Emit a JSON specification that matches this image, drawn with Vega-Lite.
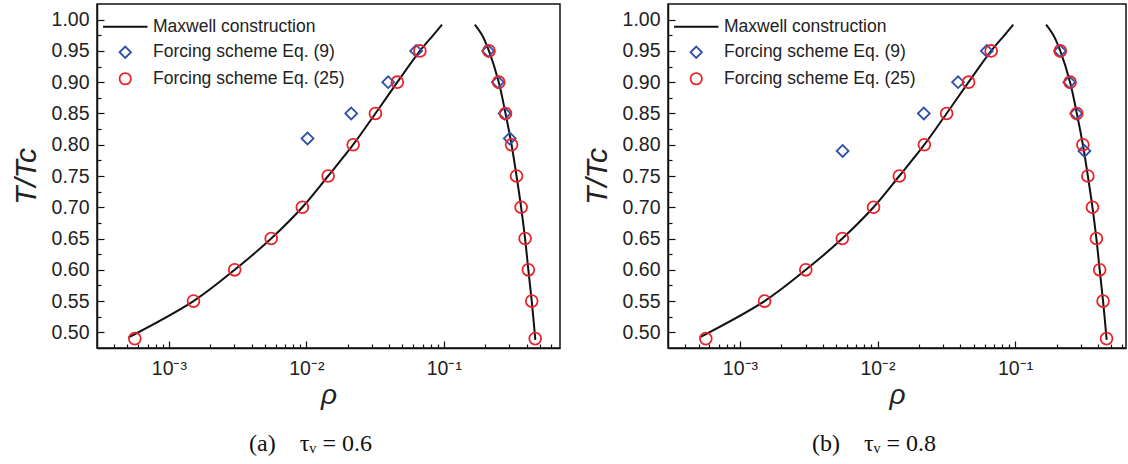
{
  "$schema": "https://vega.github.io/schema/vega-lite/v6.json",
  "padding": {"left": 10, "top": 3, "right": 0, "bottom": 0},
  "spacing": 20,
  "background": "white",
  "datasets": {
    "curve": [
      {"series": "Maxwell construction", "branch": "gas", "rho": 0.00051, "T": 0.492},
      {"series": "Maxwell construction", "branch": "gas", "rho": 0.00151, "T": 0.55},
      {"series": "Maxwell construction", "branch": "gas", "rho": 0.00301, "T": 0.60},
      {"series": "Maxwell construction", "branch": "gas", "rho": 0.00555, "T": 0.65},
      {"series": "Maxwell construction", "branch": "gas", "rho": 0.00935, "T": 0.70},
      {"series": "Maxwell construction", "branch": "gas", "rho": 0.0144, "T": 0.75},
      {"series": "Maxwell construction", "branch": "gas", "rho": 0.0219, "T": 0.80},
      {"series": "Maxwell construction", "branch": "gas", "rho": 0.0318, "T": 0.85},
      {"series": "Maxwell construction", "branch": "gas", "rho": 0.0459, "T": 0.90},
      {"series": "Maxwell construction", "branch": "gas", "rho": 0.067, "T": 0.95},
      {"series": "Maxwell construction", "branch": "gas", "rho": 0.0835, "T": 0.975},
      {"series": "Maxwell construction", "branch": "gas", "rho": 0.097, "T": 0.992},
      {"series": "Maxwell construction", "branch": "liquid", "rho": 0.463, "T": 0.488},
      {"series": "Maxwell construction", "branch": "liquid", "rho": 0.436, "T": 0.55},
      {"series": "Maxwell construction", "branch": "liquid", "rho": 0.412, "T": 0.60},
      {"series": "Maxwell construction", "branch": "liquid", "rho": 0.39, "T": 0.65},
      {"series": "Maxwell construction", "branch": "liquid", "rho": 0.365, "T": 0.70},
      {"series": "Maxwell construction", "branch": "liquid", "rho": 0.338, "T": 0.75},
      {"series": "Maxwell construction", "branch": "liquid", "rho": 0.311, "T": 0.80},
      {"series": "Maxwell construction", "branch": "liquid", "rho": 0.281, "T": 0.85},
      {"series": "Maxwell construction", "branch": "liquid", "rho": 0.251, "T": 0.90},
      {"series": "Maxwell construction", "branch": "liquid", "rho": 0.213, "T": 0.95},
      {"series": "Maxwell construction", "branch": "liquid", "rho": 0.19, "T": 0.975},
      {"series": "Maxwell construction", "branch": "liquid", "rho": 0.168, "T": 0.992}
    ],
    "pts": [
      {"series": "Forcing scheme Eq. (9)", "panel": "a", "rho": 0.0629, "T": 0.95},
      {"series": "Forcing scheme Eq. (9)", "panel": "a", "rho": 0.0394, "T": 0.90},
      {"series": "Forcing scheme Eq. (9)", "panel": "a", "rho": 0.0212, "T": 0.85},
      {"series": "Forcing scheme Eq. (9)", "panel": "a", "rho": 0.0102, "T": 0.81},
      {"series": "Forcing scheme Eq. (9)", "panel": "a", "rho": 0.210, "T": 0.95},
      {"series": "Forcing scheme Eq. (9)", "panel": "a", "rho": 0.247, "T": 0.90},
      {"series": "Forcing scheme Eq. (9)", "panel": "a", "rho": 0.277, "T": 0.85},
      {"series": "Forcing scheme Eq. (9)", "panel": "a", "rho": 0.302, "T": 0.81},
      {"series": "Forcing scheme Eq. (9)", "panel": "b", "rho": 0.0623, "T": 0.95},
      {"series": "Forcing scheme Eq. (9)", "panel": "b", "rho": 0.0385, "T": 0.90},
      {"series": "Forcing scheme Eq. (9)", "panel": "b", "rho": 0.0217, "T": 0.85},
      {"series": "Forcing scheme Eq. (9)", "panel": "b", "rho": 0.00558, "T": 0.79},
      {"series": "Forcing scheme Eq. (9)", "panel": "b", "rho": 0.212, "T": 0.95},
      {"series": "Forcing scheme Eq. (9)", "panel": "b", "rho": 0.248, "T": 0.90},
      {"series": "Forcing scheme Eq. (9)", "panel": "b", "rho": 0.278, "T": 0.85},
      {"series": "Forcing scheme Eq. (9)", "panel": "b", "rho": 0.319, "T": 0.79},
      {"series": "Forcing scheme Eq. (25)", "panel": "both", "rho": 0.000565, "T": 0.49},
      {"series": "Forcing scheme Eq. (25)", "panel": "both", "rho": 0.00151, "T": 0.55},
      {"series": "Forcing scheme Eq. (25)", "panel": "both", "rho": 0.00301, "T": 0.60},
      {"series": "Forcing scheme Eq. (25)", "panel": "both", "rho": 0.00555, "T": 0.65},
      {"series": "Forcing scheme Eq. (25)", "panel": "both", "rho": 0.00935, "T": 0.70},
      {"series": "Forcing scheme Eq. (25)", "panel": "both", "rho": 0.0144, "T": 0.75},
      {"series": "Forcing scheme Eq. (25)", "panel": "both", "rho": 0.0219, "T": 0.80},
      {"series": "Forcing scheme Eq. (25)", "panel": "both", "rho": 0.0318, "T": 0.85},
      {"series": "Forcing scheme Eq. (25)", "panel": "both", "rho": 0.0459, "T": 0.90},
      {"series": "Forcing scheme Eq. (25)", "panel": "both", "rho": 0.067, "T": 0.95},
      {"series": "Forcing scheme Eq. (25)", "panel": "both", "rho": 0.213, "T": 0.95},
      {"series": "Forcing scheme Eq. (25)", "panel": "both", "rho": 0.251, "T": 0.90},
      {"series": "Forcing scheme Eq. (25)", "panel": "both", "rho": 0.281, "T": 0.85},
      {"series": "Forcing scheme Eq. (25)", "panel": "both", "rho": 0.311, "T": 0.80},
      {"series": "Forcing scheme Eq. (25)", "panel": "both", "rho": 0.338, "T": 0.75},
      {"series": "Forcing scheme Eq. (25)", "panel": "both", "rho": 0.365, "T": 0.70},
      {"series": "Forcing scheme Eq. (25)", "panel": "both", "rho": 0.39, "T": 0.65},
      {"series": "Forcing scheme Eq. (25)", "panel": "both", "rho": 0.412, "T": 0.60},
      {"series": "Forcing scheme Eq. (25)", "panel": "both", "rho": 0.436, "T": 0.55},
      {"series": "Forcing scheme Eq. (25)", "panel": "both", "rho": 0.462, "T": 0.49}
    ]
  },
  "config": {
    "font": "Liberation Sans",
    "view": {"stroke": "#111111", "strokeWidth": 1.5},
    "axis": {"grid": false, "domainColor": "#111111", "domainWidth": 1.5, "tickColor": "#111111", "tickWidth": 1.2, "labelColor": "#222222", "labelFont": "Liberation Sans", "labelFontSize": 18, "titleColor": "#222222"},
    "legend": {"labelLimit": 0},
    "title": {"font": "Liberation Serif", "fontSize": 24, "fontWeight": "normal", "color": "#111111"}
  },
  "resolve": {"scale": {"x": "independent", "y": "independent", "color": "independent", "shape": "independent"}, "legend": {"color": "independent", "shape": "independent"}},
  "hconcat": [
    {
      "width": 463, "height": 344,
      "title": {"text": "(a)\u2003τᵥ = 0.6", "orient": "bottom", "anchor": "middle", "frame": "group", "dx": -18, "offset": 22},
      "resolve": {"axis": {"x": "independent", "y": "independent"}},
      "layer": [
        {
          "data": {"name": "curve"},
          "mark": {"type": "line", "interpolate": "catmull-rom", "strokeWidth": 2},
          "encoding": {
            "x": {"field": "rho", "type": "quantitative", "scale": {"type": "log", "domain": [0.0003, 0.7], "nice": false},
              "axis": {"orient": "bottom", "values": [0.001, 0.01, 0.1], "labelExpr": "datum.value < 0.005 ? '10⁻³' : (datum.value < 0.05 ? '10⁻²' : '10⁻¹')", "tickSize": -7, "labelPadding": 18, "labelFlush": false, "labelFontSize": 19.5, "title": "ρ", "titleFont": "Liberation Sans", "titleFontStyle": "italic", "titleFontWeight": "normal", "titleFontSize": 28, "titlePadding": 4}},
            "y": {"field": "T", "type": "quantitative", "scale": {"domain": [0.475, 1.025], "nice": false, "zero": false},
              "axis": {"orient": "left", "values": [0.5, 0.55, 0.6, 0.65, 0.7, 0.75, 0.8, 0.85, 0.9, 0.95, 1.0], "format": ".2f", "tickSize": -7, "labelPadding": 15, "labelFlush": false, "labelFontSize": 19.5, "title": "T/Tc", "titleFont": "Liberation Sans", "titleFontStyle": "italic", "titleFontWeight": "normal", "titleFontSize": 30, "titlePadding": 10}},
            "color": {"field": "series", "type": "nominal",
              "scale": {"domain": ["Maxwell construction", "Forcing scheme Eq. (9)", "Forcing scheme Eq. (25)"], "range": ["#111111", "#3050a8", "#e8242b"]},
              "legend": {"title": null, "orient": "none", "legendX": 19.5, "legendY": 14, "labelFontSize": 17.5, "labelFont": "Liberation Sans", "labelColor": "#222222", "labelLimit": 0, "symbolSize": 130, "symbolStrokeWidth": 1.8, "labelOffset": 19, "rowPadding": 6.5, "padding": 0}},
            "detail": {"field": "branch", "type": "nominal"},
            "order": {"field": "T", "type": "quantitative"}
          }
        },
        {
          "data": {"name": "pts"},
          "transform": [{"filter": "datum.panel == 'a' || datum.panel == 'both'"}],
          "mark": {"type": "point", "filled": false, "opacity": 1, "strokeWidth": 1.8, "size": 140},
          "encoding": {
            "x": {"field": "rho", "type": "quantitative",
              "axis": {"orient": "bottom", "values": [0.0004, 0.0005, 0.0006, 0.0007, 0.0008, 0.0009, 0.002, 0.003, 0.004, 0.005, 0.006, 0.007, 0.008, 0.009, 0.02, 0.03, 0.04, 0.05, 0.06, 0.07, 0.08, 0.09, 0.2, 0.3, 0.4, 0.5, 0.6], "labels": false, "domain": false, "tickSize": -4, "title": null}},
            "y": {"field": "T", "type": "quantitative",
              "axis": {"orient": "left", "values": [0.525, 0.575, 0.625, 0.675, 0.725, 0.775, 0.825, 0.875, 0.925, 0.975], "labels": false, "domain": false, "tickSize": -4, "title": null}},
            "color": {"field": "series", "type": "nominal",
              "legend": {"title": null, "orient": "none", "legendX": 19.5, "legendY": 14, "labelFontSize": 17.5, "labelFont": "Liberation Sans", "labelColor": "#222222", "labelLimit": 0, "symbolSize": 130, "symbolStrokeWidth": 1.8, "labelOffset": 19, "rowPadding": 6.5, "padding": 0}},
            "shape": {"field": "series", "type": "nominal",
              "scale": {"domain": ["Maxwell construction", "Forcing scheme Eq. (9)", "Forcing scheme Eq. (25)"], "range": ["M-3.9,0H3.9", "diamond", "circle"]},
              "legend": {"title": null, "orient": "none", "legendX": 19.5, "legendY": 14, "labelFontSize": 17.5, "labelFont": "Liberation Sans", "labelColor": "#222222", "labelLimit": 0, "symbolSize": 130, "symbolStrokeWidth": 1.8, "labelOffset": 19, "rowPadding": 6.5, "padding": 0}}
          }
        }
      ]
    },
    {
      "width": 458, "height": 344,
      "title": {"text": "(b)\u2003τᵥ = 0.8", "orient": "bottom", "anchor": "middle", "frame": "group", "dx": -23, "offset": 22},
      "resolve": {"axis": {"x": "independent", "y": "independent"}},
      "layer": [
        {
          "data": {"name": "curve"},
          "mark": {"type": "line", "interpolate": "catmull-rom", "strokeWidth": 2},
          "encoding": {
            "x": {"field": "rho", "type": "quantitative", "scale": {"type": "log", "domain": [0.0003, 0.64], "nice": false},
              "axis": {"orient": "bottom", "values": [0.001, 0.01, 0.1], "labelExpr": "datum.value < 0.005 ? '10⁻³' : (datum.value < 0.05 ? '10⁻²' : '10⁻¹')", "tickSize": -7, "labelPadding": 18, "labelFlush": false, "labelFontSize": 19.5, "title": "ρ", "titleFont": "Liberation Sans", "titleFontStyle": "italic", "titleFontWeight": "normal", "titleFontSize": 28, "titlePadding": 4}},
            "y": {"field": "T", "type": "quantitative", "scale": {"domain": [0.475, 1.025], "nice": false, "zero": false},
              "axis": {"orient": "left", "values": [0.5, 0.55, 0.6, 0.65, 0.7, 0.75, 0.8, 0.85, 0.9, 0.95, 1.0], "format": ".2f", "tickSize": -7, "labelPadding": 15, "labelFlush": false, "labelFontSize": 19.5, "title": "T/Tc", "titleFont": "Liberation Sans", "titleFontStyle": "italic", "titleFontWeight": "normal", "titleFontSize": 30, "titlePadding": 10}},
            "color": {"field": "series", "type": "nominal",
              "scale": {"domain": ["Maxwell construction", "Forcing scheme Eq. (9)", "Forcing scheme Eq. (25)"], "range": ["#111111", "#3050a8", "#e8242b"]},
              "legend": {"title": null, "orient": "none", "legendX": 19.5, "legendY": 14, "labelFontSize": 17.5, "labelFont": "Liberation Sans", "labelColor": "#222222", "labelLimit": 0, "symbolSize": 130, "symbolStrokeWidth": 1.8, "labelOffset": 19, "rowPadding": 6.5, "padding": 0}},
            "detail": {"field": "branch", "type": "nominal"},
            "order": {"field": "T", "type": "quantitative"}
          }
        },
        {
          "data": {"name": "pts"},
          "transform": [{"filter": "datum.panel == 'b' || datum.panel == 'both'"}],
          "mark": {"type": "point", "filled": false, "opacity": 1, "strokeWidth": 1.8, "size": 140},
          "encoding": {
            "x": {"field": "rho", "type": "quantitative",
              "axis": {"orient": "bottom", "values": [0.0004, 0.0005, 0.0006, 0.0007, 0.0008, 0.0009, 0.002, 0.003, 0.004, 0.005, 0.006, 0.007, 0.008, 0.009, 0.02, 0.03, 0.04, 0.05, 0.06, 0.07, 0.08, 0.09, 0.2, 0.3, 0.4, 0.5, 0.6], "labels": false, "domain": false, "tickSize": -4, "title": null}},
            "y": {"field": "T", "type": "quantitative",
              "axis": {"orient": "left", "values": [0.525, 0.575, 0.625, 0.675, 0.725, 0.775, 0.825, 0.875, 0.925, 0.975], "labels": false, "domain": false, "tickSize": -4, "title": null}},
            "color": {"field": "series", "type": "nominal",
              "legend": {"title": null, "orient": "none", "legendX": 19.5, "legendY": 14, "labelFontSize": 17.5, "labelFont": "Liberation Sans", "labelColor": "#222222", "labelLimit": 0, "symbolSize": 130, "symbolStrokeWidth": 1.8, "labelOffset": 19, "rowPadding": 6.5, "padding": 0}},
            "shape": {"field": "series", "type": "nominal",
              "scale": {"domain": ["Maxwell construction", "Forcing scheme Eq. (9)", "Forcing scheme Eq. (25)"], "range": ["M-3.9,0H3.9", "diamond", "circle"]},
              "legend": {"title": null, "orient": "none", "legendX": 19.5, "legendY": 14, "labelFontSize": 17.5, "labelFont": "Liberation Sans", "labelColor": "#222222", "labelLimit": 0, "symbolSize": 130, "symbolStrokeWidth": 1.8, "labelOffset": 19, "rowPadding": 6.5, "padding": 0}}
          }
        }
      ]
    }
  ]
}
